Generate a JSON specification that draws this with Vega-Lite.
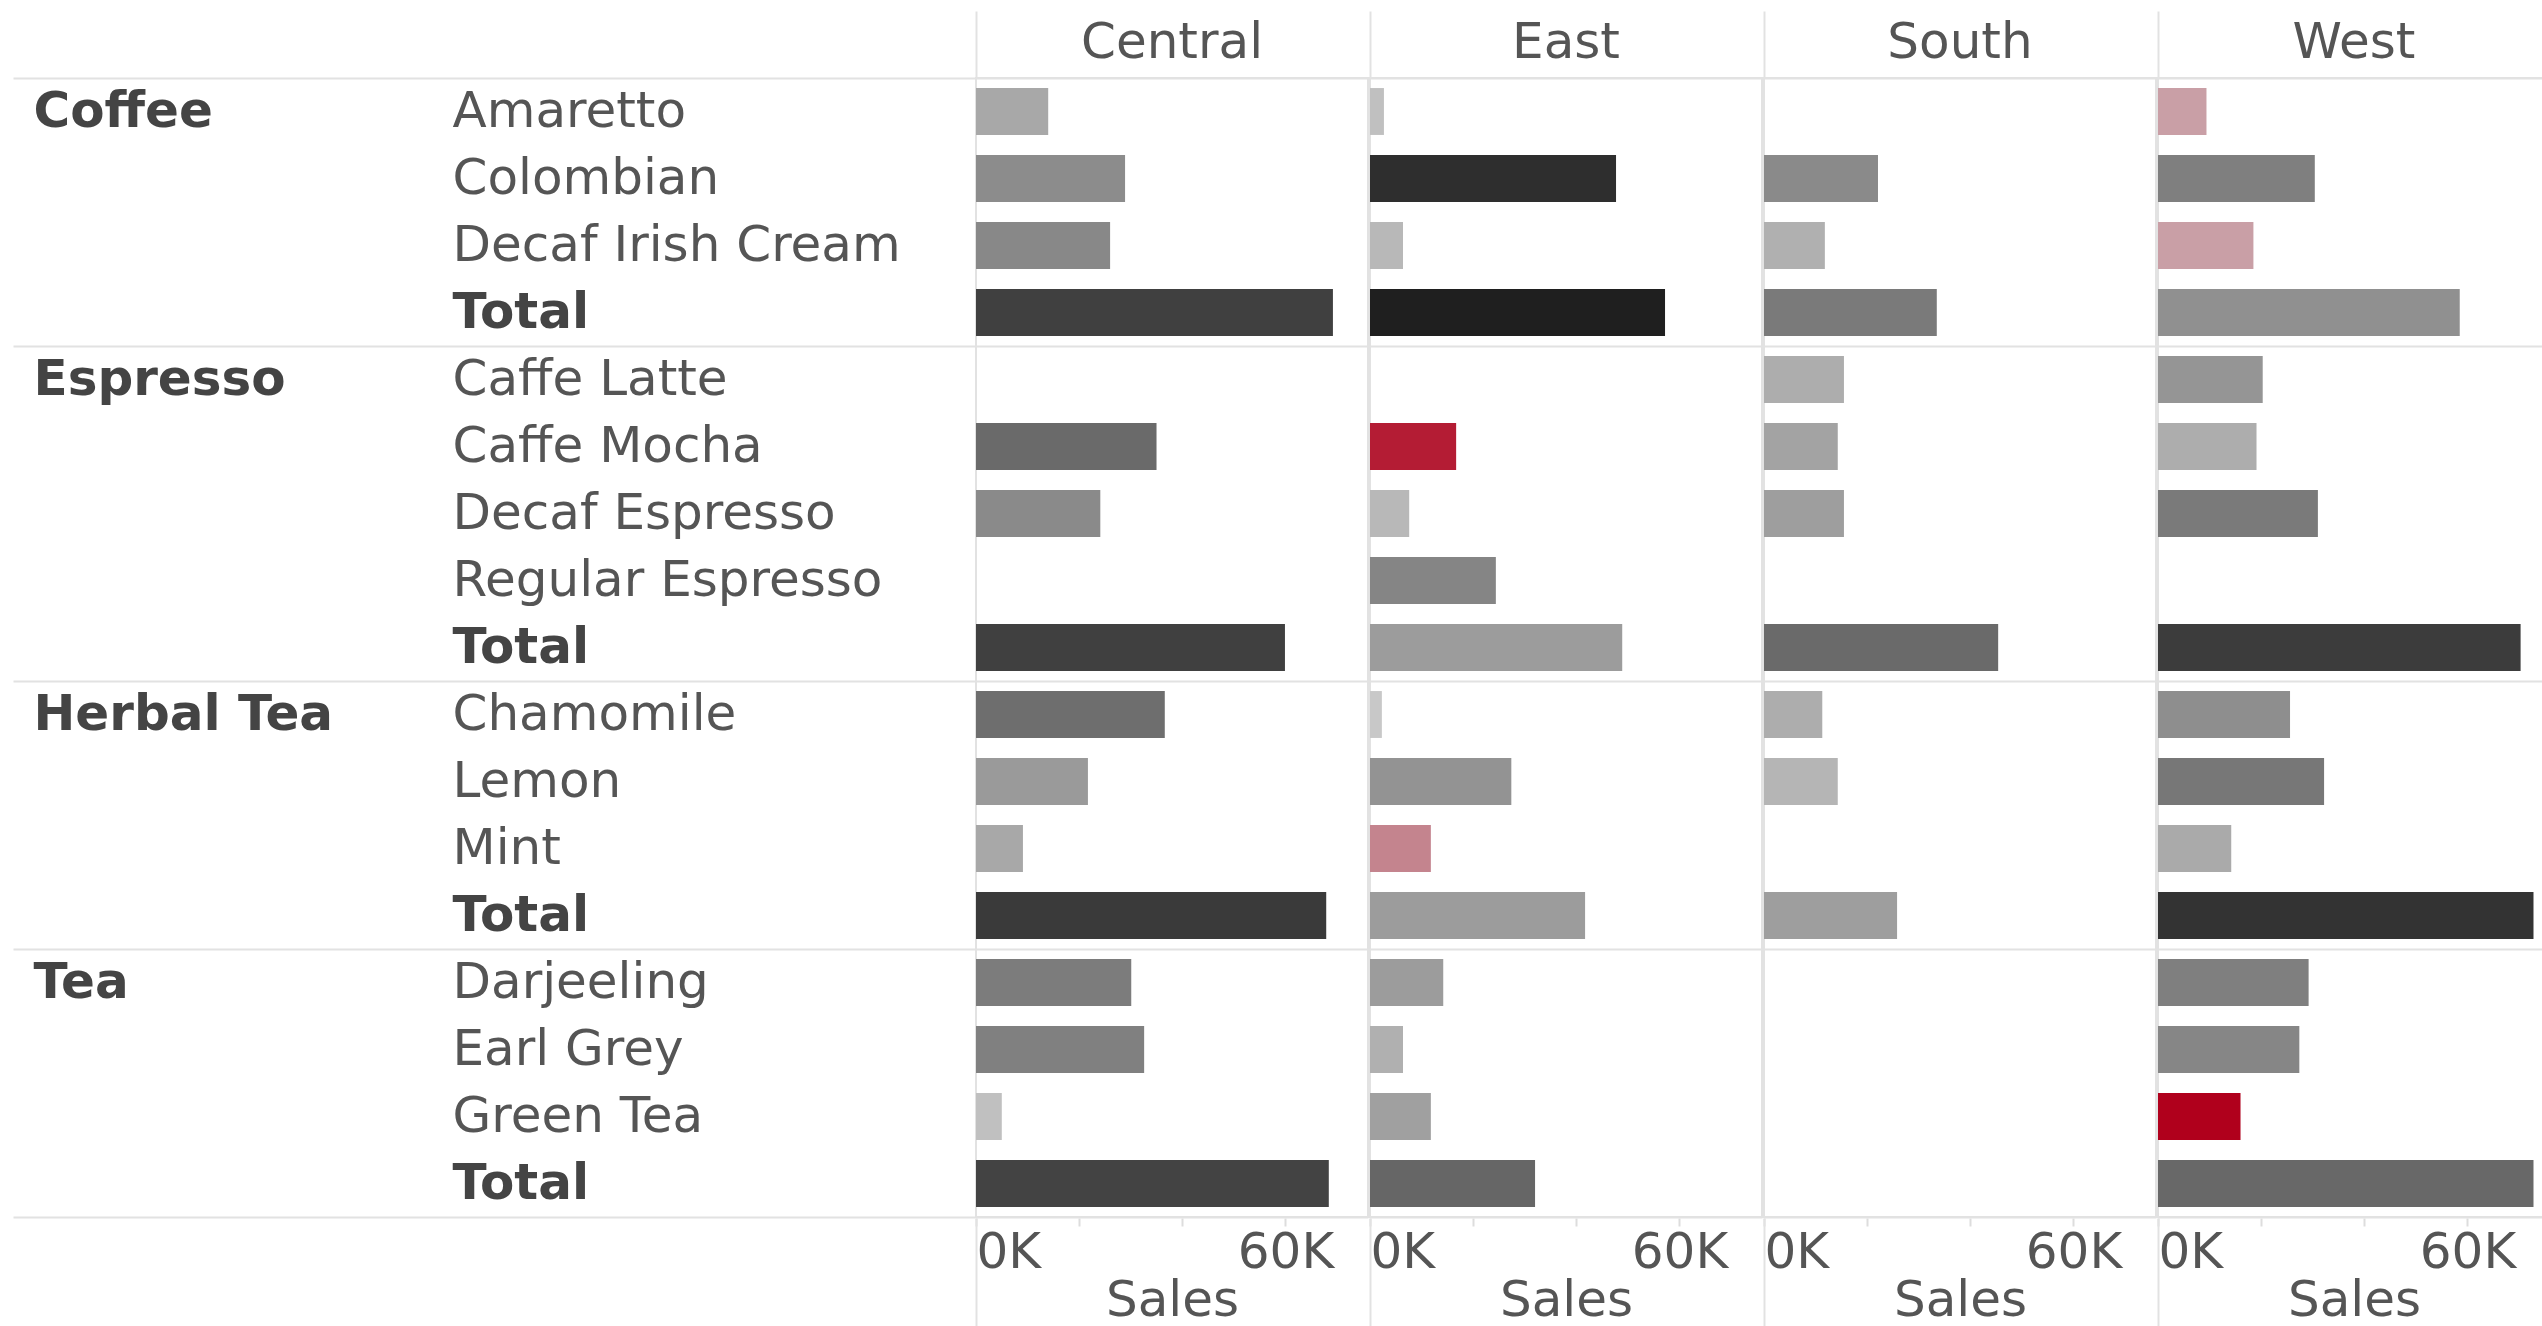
{
  "$schema": "https://vega.github.io/schema/vega-lite/v6.json",
  "padding": {"left": 12, "top": 10, "right": 0, "bottom": 0},
  "background": "white",
  "data": {
    "values": [
      {"Region": "Central", "Category": "Coffee", "Product": "Amaretto", "Row": "Coffee|Amaretto", "Sales": 14000, "Profit": 5300},
      {"Region": "Central", "Category": "Coffee", "Product": "Colombian", "Row": "Coffee|Colombian", "Sales": 28900, "Profit": 9000},
      {"Region": "Central", "Category": "Coffee", "Product": "Decaf Irish Cream", "Row": "Coffee|Decaf Irish Cream", "Sales": 26000, "Profit": 9500},
      {"Region": "Central", "Category": "Coffee", "Product": "Total", "Row": "Coffee|Total", "Sales": 69200, "Profit": 19000},
      {"Region": "Central", "Category": "Espresso", "Product": "Caffe Mocha", "Row": "Espresso|Caffe Mocha", "Sales": 35000, "Profit": 13400},
      {"Region": "Central", "Category": "Espresso", "Product": "Decaf Espresso", "Row": "Espresso|Decaf Espresso", "Sales": 24100, "Profit": 9200},
      {"Region": "Central", "Category": "Espresso", "Product": "Total", "Row": "Espresso|Total", "Sales": 59900, "Profit": 19000},
      {"Region": "Central", "Category": "Herbal Tea", "Product": "Chamomile", "Row": "Herbal Tea|Chamomile", "Sales": 36600, "Profit": 12900},
      {"Region": "Central", "Category": "Herbal Tea", "Product": "Lemon", "Row": "Herbal Tea|Lemon", "Sales": 21700, "Profit": 7100},
      {"Region": "Central", "Category": "Herbal Tea", "Product": "Mint", "Row": "Herbal Tea|Mint", "Sales": 9100, "Profit": 5300},
      {"Region": "Central", "Category": "Herbal Tea", "Product": "Total", "Row": "Herbal Tea|Total", "Sales": 67900, "Profit": 19800},
      {"Region": "Central", "Category": "Tea", "Product": "Darjeeling", "Row": "Tea|Darjeeling", "Sales": 30100, "Profit": 11100},
      {"Region": "Central", "Category": "Tea", "Product": "Earl Grey", "Row": "Tea|Earl Grey", "Sales": 32600, "Profit": 10500},
      {"Region": "Central", "Category": "Tea", "Product": "Green Tea", "Row": "Tea|Green Tea", "Sales": 5000, "Profit": 2100},
      {"Region": "Central", "Category": "Tea", "Product": "Total", "Row": "Tea|Total", "Sales": 68400, "Profit": 18600},

      {"Region": "East", "Category": "Coffee", "Product": "Amaretto", "Row": "Coffee|Amaretto", "Sales": 2700, "Profit": 2100},
      {"Region": "East", "Category": "Coffee", "Product": "Colombian", "Row": "Coffee|Colombian", "Sales": 47700, "Profit": 21400},
      {"Region": "East", "Category": "Coffee", "Product": "Decaf Irish Cream", "Row": "Coffee|Decaf Irish Cream", "Sales": 6400, "Profit": 3200},
      {"Region": "East", "Category": "Coffee", "Product": "Total", "Row": "Coffee|Total", "Sales": 57200, "Profit": 23400},
      {"Region": "East", "Category": "Espresso", "Product": "Caffe Mocha", "Row": "Espresso|Caffe Mocha", "Sales": 16700, "Profit": -5200},
      {"Region": "East", "Category": "Espresso", "Product": "Decaf Espresso", "Row": "Espresso|Decaf Espresso", "Sales": 7600, "Profit": 3200},
      {"Region": "East", "Category": "Espresso", "Product": "Regular Espresso", "Row": "Espresso|Regular Espresso", "Sales": 24400, "Profit": 9900},
      {"Region": "East", "Category": "Espresso", "Product": "Total", "Row": "Espresso|Total", "Sales": 48900, "Profit": 6900},
      {"Region": "East", "Category": "Herbal Tea", "Product": "Chamomile", "Row": "Herbal Tea|Chamomile", "Sales": 2300, "Profit": 1100},
      {"Region": "East", "Category": "Herbal Tea", "Product": "Lemon", "Row": "Herbal Tea|Lemon", "Sales": 27400, "Profit": 8000},
      {"Region": "East", "Category": "Herbal Tea", "Product": "Mint", "Row": "Herbal Tea|Mint", "Sales": 11800, "Profit": -2200},
      {"Region": "East", "Category": "Herbal Tea", "Product": "Total", "Row": "Herbal Tea|Total", "Sales": 41700, "Profit": 6900},
      {"Region": "East", "Category": "Tea", "Product": "Darjeeling", "Row": "Tea|Darjeeling", "Sales": 14200, "Profit": 6900},
      {"Region": "East", "Category": "Tea", "Product": "Earl Grey", "Row": "Tea|Earl Grey", "Sales": 6400, "Profit": 4200},
      {"Region": "East", "Category": "Tea", "Product": "Green Tea", "Row": "Tea|Green Tea", "Sales": 11800, "Profit": 6300},
      {"Region": "East", "Category": "Tea", "Product": "Total", "Row": "Tea|Total", "Sales": 32000, "Profit": 14000},

      {"Region": "South", "Category": "Coffee", "Product": "Colombian", "Row": "Coffee|Colombian", "Sales": 22100, "Profit": 9200},
      {"Region": "South", "Category": "Coffee", "Product": "Decaf Irish Cream", "Row": "Coffee|Decaf Irish Cream", "Sales": 11800, "Profit": 4200},
      {"Region": "South", "Category": "Coffee", "Product": "Total", "Row": "Coffee|Total", "Sales": 33500, "Profit": 11300},
      {"Region": "South", "Category": "Espresso", "Product": "Caffe Latte", "Row": "Espresso|Caffe Latte", "Sales": 15500, "Profit": 4600},
      {"Region": "South", "Category": "Espresso", "Product": "Caffe Mocha", "Row": "Espresso|Caffe Mocha", "Sales": 14300, "Profit": 5900},
      {"Region": "South", "Category": "Espresso", "Product": "Decaf Espresso", "Row": "Espresso|Decaf Espresso", "Sales": 15500, "Profit": 6600},
      {"Region": "South", "Category": "Espresso", "Product": "Total", "Row": "Espresso|Total", "Sales": 45400, "Profit": 13400},
      {"Region": "South", "Category": "Herbal Tea", "Product": "Chamomile", "Row": "Herbal Tea|Chamomile", "Sales": 11300, "Profit": 4600},
      {"Region": "South", "Category": "Herbal Tea", "Product": "Lemon", "Row": "Herbal Tea|Lemon", "Sales": 14300, "Profit": 3600},
      {"Region": "South", "Category": "Herbal Tea", "Product": "Total", "Row": "Herbal Tea|Total", "Sales": 25800, "Profit": 6600},

      {"Region": "West", "Category": "Coffee", "Product": "Amaretto", "Row": "Coffee|Amaretto", "Sales": 9400, "Profit": -1400},
      {"Region": "West", "Category": "Coffee", "Product": "Colombian", "Row": "Coffee|Colombian", "Sales": 30400, "Profit": 10700},
      {"Region": "West", "Category": "Coffee", "Product": "Decaf Irish Cream", "Row": "Coffee|Decaf Irish Cream", "Sales": 18500, "Profit": -1400},
      {"Region": "West", "Category": "Coffee", "Product": "Total", "Row": "Coffee|Total", "Sales": 58500, "Profit": 8400},
      {"Region": "West", "Category": "Espresso", "Product": "Caffe Latte", "Row": "Espresso|Caffe Latte", "Sales": 20300, "Profit": 7800},
      {"Region": "West", "Category": "Espresso", "Product": "Caffe Mocha", "Row": "Espresso|Caffe Mocha", "Sales": 19100, "Profit": 4600},
      {"Region": "West", "Category": "Espresso", "Product": "Decaf Espresso", "Row": "Espresso|Decaf Espresso", "Sales": 31000, "Profit": 11300},
      {"Region": "West", "Category": "Espresso", "Product": "Total", "Row": "Espresso|Total", "Sales": 70300, "Profit": 19500},
      {"Region": "West", "Category": "Herbal Tea", "Product": "Chamomile", "Row": "Herbal Tea|Chamomile", "Sales": 25600, "Profit": 8700},
      {"Region": "West", "Category": "Herbal Tea", "Product": "Lemon", "Row": "Herbal Tea|Lemon", "Sales": 32200, "Profit": 11700},
      {"Region": "West", "Category": "Herbal Tea", "Product": "Mint", "Row": "Herbal Tea|Mint", "Sales": 14200, "Profit": 5000},
      {"Region": "West", "Category": "Herbal Tea", "Product": "Total", "Row": "Herbal Tea|Total", "Sales": 72800, "Profit": 20700},
      {"Region": "West", "Category": "Tea", "Product": "Darjeeling", "Row": "Tea|Darjeeling", "Sales": 29200, "Profit": 10700},
      {"Region": "West", "Category": "Tea", "Product": "Earl Grey", "Row": "Tea|Earl Grey", "Sales": 27400, "Profit": 9800},
      {"Region": "West", "Category": "Tea", "Product": "Green Tea", "Row": "Tea|Green Tea", "Sales": 16000, "Profit": -6000},
      {"Region": "West", "Category": "Tea", "Product": "Total", "Row": "Tea|Total", "Sales": 72800, "Profit": 13700}
    ]
  },
  "facet": {
    "column": {
      "field": "Region",
      "type": "nominal",
      "header": {"title": null, "labelFont": "DejaVu Sans", "labelFontSize": 50, "labelColor": "#555555", "labelPadding": -58}
    }
  },
  "spacing": 0,
  "spec": {
    "width": 392,
    "height": {"step": 67},
    "layer": [
      {
        "mark": {"type": "bar", "height": {"band": 0.7}},
        "encoding": {
          "y": {
            "field": "Row",
            "type": "nominal",
            "sort": ["Coffee|Amaretto", "Coffee|Colombian", "Coffee|Decaf Irish Cream", "Coffee|Total", "Espresso|Caffe Latte", "Espresso|Caffe Mocha", "Espresso|Decaf Espresso", "Espresso|Regular Espresso", "Espresso|Total", "Herbal Tea|Chamomile", "Herbal Tea|Lemon", "Herbal Tea|Mint", "Herbal Tea|Total", "Tea|Darjeeling", "Tea|Earl Grey", "Tea|Green Tea", "Tea|Total"],
            "scale": {"paddingInner": 0, "paddingOuter": 0},
            "axis": {
              "orient": "left",
              "title": null,
              "domain": false,
              "ticks": false,
              "grid": false,
              "labelExpr": "split(datum.value, '|')[1]",
              "labelAlign": "left",
              "labelBaseline": "middle",
              "labelPadding": 523,
              "labelLimit": 1000,
              "labelFont": "DejaVu Sans",
              "labelFontSize": 50,
              "labelColor": {"condition": {"test": "indexof(datum.value, 'Total') >= 0", "value": "#444444"}, "value": "#555555"},
              "labelFontWeight": {"condition": {"test": "indexof(datum.value, 'Total') >= 0", "value": "bold"}, "value": "normal"}
            }
          },
          "x": {
            "field": "Sales",
            "type": "quantitative",
            "scale": {"domain": [0, 76000], "nice": false},
            "axis": {
              "orient": "bottom",
              "title": "Sales",
              "titleFont": "DejaVu Sans",
              "titleFontSize": 50,
              "titleFontWeight": "normal",
              "titleColor": "#555555",
              "titlePadding": -2,
              "values": [0, 20000, 40000, 60000],
              "labelExpr": "datum.value == 0 || datum.value == 60000 ? (datum.value / 1000) + 'K' : ''",
              "labelFlush": true,
              "labelFont": "DejaVu Sans",
              "labelFontSize": 50,
              "labelColor": "#555555",
              "labelPadding": 1,
              "domain": false,
              "ticks": true,
              "tickSize": 8,
              "tickWidth": 2,
              "tickColor": "#dddddd",
              "grid": false
            }
          },
          "color": {
            "field": "Profit",
            "type": "quantitative",
            "scale": {"domain": [-6000, 0, 24000], "range": ["#b0001c", "#d0d0d0", "#1a1a1a"], "interpolate": "rgb"},
            "legend": null
          }
        }
      },
      {
        "mark": {"type": "bar", "opacity": 0, "height": {"band": 0.7}},
        "encoding": {
          "y": {
            "field": "Row",
            "type": "nominal",
            "sort": ["Coffee|Amaretto", "Coffee|Colombian", "Coffee|Decaf Irish Cream", "Coffee|Total", "Espresso|Caffe Latte", "Espresso|Caffe Mocha", "Espresso|Decaf Espresso", "Espresso|Regular Espresso", "Espresso|Total", "Herbal Tea|Chamomile", "Herbal Tea|Lemon", "Herbal Tea|Mint", "Herbal Tea|Total", "Tea|Darjeeling", "Tea|Earl Grey", "Tea|Green Tea", "Tea|Total"],
            "axis": {
              "orient": "left",
              "title": null,
              "domain": false,
              "ticks": true,
              "tickSize": 962,
              "tickWidth": 2,
              "tickColor": "#e2e2e2",
              "tickBand": "extent",
              "tickOpacity": {"condition": {"test": "!isValid(datum.value) || indexof(datum.value, 'Total') >= 0", "value": 1}, "value": 0},
              "grid": true,
              "gridColor": "#e2e2e2",
              "gridWidth": 2,
              "gridOpacity": {"condition": {"test": "!isValid(datum.value) || indexof(datum.value, 'Total') >= 0", "value": 1}, "value": 0},
              "labelExpr": "indexof(['Coffee|Amaretto', 'Espresso|Caffe Latte', 'Herbal Tea|Chamomile', 'Tea|Darjeeling'], datum.value) >= 0 ? split(datum.value, '|')[0] : ''",
              "labelAlign": "left",
              "labelBaseline": "middle",
              "labelPadding": -20,
              "labelLimit": 1000,
              "labelFont": "DejaVu Sans",
              "labelFontSize": 50,
              "labelFontWeight": "bold",
              "labelColor": "#444444"
            }
          },
          "x": {
            "field": "Sales",
            "type": "quantitative",
            "axis": {
              "orient": "bottom",
              "title": null,
              "values": [0],
              "labels": false,
              "domain": false,
              "grid": false,
              "ticks": true,
              "tickSize": 110,
              "tickWidth": 2,
              "tickColor": "#e2e2e2"
            }
          }
        }
      },
      {
        "mark": {"type": "bar", "opacity": 0, "height": {"band": 0.7}},
        "encoding": {
          "y": {
            "field": "Row",
            "type": "nominal",
            "sort": ["Coffee|Amaretto", "Coffee|Colombian", "Coffee|Decaf Irish Cream", "Coffee|Total", "Espresso|Caffe Latte", "Espresso|Caffe Mocha", "Espresso|Decaf Espresso", "Espresso|Regular Espresso", "Espresso|Total", "Herbal Tea|Chamomile", "Herbal Tea|Lemon", "Herbal Tea|Mint", "Herbal Tea|Total", "Tea|Darjeeling", "Tea|Earl Grey", "Tea|Green Tea", "Tea|Total"],
            "axis": null
          },
          "x": {
            "field": "Sales",
            "type": "quantitative",
            "axis": {
              "orient": "top",
              "title": null,
              "values": [0],
              "labels": false,
              "domain": false,
              "grid": false,
              "ticks": true,
              "tickSize": 66,
              "tickWidth": 2,
              "tickColor": "#e2e2e2"
            }
          }
        }
      }
    ],
    "resolve": {"axis": {"y": "independent", "x": "independent"}}
  },
  "config": {
    "font": "DejaVu Sans",
    "view": {"stroke": "#e2e2e2", "strokeWidth": 2}
  }
}
